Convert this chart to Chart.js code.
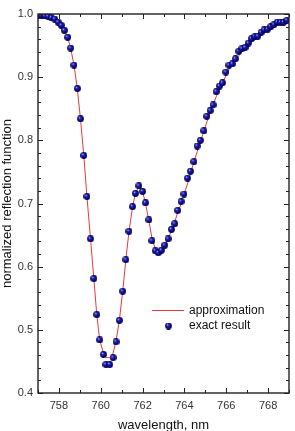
<!DOCTYPE html>
<html>
<head>
<meta charset="utf-8">
<script src="https://cdn.jsdelivr.net/npm/chart.js@4.4.1/dist/chart.umd.min.js"></script>
<style>
  html, body { margin: 0; padding: 0; background: #fff; }
  #wrap { width: 295px; height: 431px; }
</style>
</head>
<body>
<div id="wrap"><canvas id="chart"></canvas></div>
<script>
// wavelengths, nm
const wavelength = [
  757.00, 757.16, 757.32, 757.48, 757.64, 757.80, 757.96, 758.11, 758.26, 758.42,
  758.56, 758.72, 758.88, 759.03, 759.19, 759.34, 759.51, 759.67, 759.81, 759.95,
  760.13, 760.25, 760.43, 760.59, 760.73, 760.89, 761.05, 761.20, 761.35, 761.52,
  761.66, 761.82, 762.00, 762.14, 762.30, 762.45, 762.61, 762.75, 762.90, 763.06,
  763.22, 763.38, 763.54, 763.68, 763.84, 763.98, 764.15, 764.29, 764.45, 764.61,
  764.76, 764.93, 765.07, 765.23, 765.37, 765.52, 765.68, 765.82, 765.98, 766.13,
  766.29, 766.44, 766.60, 766.75, 766.90, 767.06, 767.21, 767.37, 767.51, 767.67,
  767.81, 767.98, 768.13, 768.28, 768.44, 768.60, 768.74, 768.90
];

// exact result (spheres)
const exactResult = [
  0.998, 0.998, 0.997, 0.996, 0.994, 0.992, 0.987, 0.982, 0.974, 0.963,
  0.946, 0.919, 0.882, 0.834, 0.776, 0.711, 0.644, 0.581, 0.524, 0.484,
  0.461, 0.445, 0.445, 0.456, 0.481, 0.515, 0.561, 0.611, 0.656, 0.695,
  0.716, 0.728, 0.719, 0.701, 0.674, 0.641, 0.625, 0.622, 0.626, 0.634,
  0.644, 0.659, 0.668, 0.689, 0.703, 0.715, 0.740, 0.751, 0.766, 0.791,
  0.800, 0.815, 0.838, 0.847, 0.856, 0.877, 0.886, 0.891, 0.908, 0.919,
  0.921, 0.929, 0.941, 0.945, 0.947, 0.954, 0.961, 0.964, 0.965, 0.971,
  0.975, 0.976, 0.980, 0.983, 0.987, 0.987, 0.987, 0.990
];

// approximation (red line)
const approximation = [
  0.998, 0.998, 0.997, 0.996, 0.994, 0.992, 0.987, 0.982, 0.974, 0.963,
  0.946, 0.919, 0.882, 0.834, 0.776, 0.711, 0.644, 0.581, 0.524, 0.484,
  0.463, 0.456, 0.456, 0.463, 0.482, 0.515, 0.561, 0.611, 0.656, 0.694,
  0.717, 0.726, 0.719, 0.700, 0.673, 0.645, 0.628, 0.623, 0.625, 0.633,
  0.644, 0.657, 0.671, 0.686, 0.699, 0.715, 0.731, 0.748, 0.765, 0.782,
  0.798, 0.814, 0.829, 0.843, 0.856, 0.869, 0.881, 0.891, 0.902, 0.912,
  0.919, 0.926, 0.934, 0.940, 0.945, 0.950, 0.956, 0.959, 0.963, 0.966,
  0.970, 0.973, 0.976, 0.979, 0.982, 0.984, 0.985, 0.987
];

// axis ticks
const xTicks = [758, 760, 762, 764, 766, 768];
const xMinorTicks = [757, 759, 761, 763, 765, 767, 769];
const yTicks = [0.4, 0.5, 0.6, 0.7, 0.8, 0.9, 1.0];
const yMinorTicks = [];
for (let k = 0; k <= 30; k++) yMinorTicks.push(+(0.4 + k * 0.02).toFixed(2));

const FONT = "'Liberation Sans', Arial, sans-serif";

// shaded navy sphere used as point marker
function makeBall(d) {
  const c = document.createElement("canvas");
  c.width = c.height = d;
  const g = c.getContext("2d");
  const r = d / 2;
  const grad = g.createRadialGradient(r * 0.65, r * 0.6, 0.2, r, r, r);
  grad.addColorStop(0, "#c8c8ff");
  grad.addColorStop(0.28, "#2828b8");
  grad.addColorStop(0.7, "#08087f");
  grad.addColorStop(1, "#00004a");
  g.fillStyle = grad;
  g.beginPath();
  g.arc(r, r, r - 0.1, 0, Math.PI * 2);
  g.fill();
  return c;
}
const ball = makeBall(7);

// frame, inward ticks and in-plot legend
const frameAndLegend = {
  id: "frameAndLegend",
  afterDraw(chart) {
    const { ctx, chartArea: a, scales: { x, y } } = chart;
    ctx.save();
    ctx.strokeStyle = "#222";
    ctx.lineWidth = 1;
    const seg = (x1, y1, x2, y2) => {
      ctx.beginPath();
      ctx.moveTo(x1, y1);
      ctx.lineTo(x2, y2);
      ctx.stroke();
    };
    const xt = (v, len) => {
      const p = Math.round(x.getPixelForValue(v)) + 0.5;
      seg(p, a.bottom, p, a.bottom - len);
      seg(p, a.top, p, a.top + len);
    };
    const yt = (v, len) => {
      const p = Math.round(y.getPixelForValue(v)) + 0.5;
      seg(a.left, p, a.left + len, p);
      seg(a.right, p, a.right - len, p);
    };
    xMinorTicks.forEach((v) => xt(v, 3));
    xTicks.forEach((v) => xt(v, 5));
    yMinorTicks.forEach((v) => yt(v, 3));
    yTicks.forEach((v) => yt(v, 5));
    ctx.lineWidth = 1.4;
    ctx.strokeRect(a.left, a.top, a.right - a.left, a.bottom - a.top);

    // legend
    ctx.font = "12px " + FONT;
    ctx.fillStyle = "#111";
    ctx.textBaseline = "middle";
    ctx.strokeStyle = "#e8393a";
    ctx.lineWidth = 1;
    seg(152, 310.5, 184, 310.5);
    ctx.fillText("approximation", 189, 310.5);
    ctx.drawImage(ball, 165, 322.5, 7, 7);
    ctx.fillText("exact result", 189, 326);
    ctx.restore();
  },
};

new Chart(document.getElementById("chart"), {
  type: "scatter",
  data: {
    datasets: [
      {
        label: "approximation",
        data: wavelength.map((w, i) => ({ x: w, y: approximation[i] })),
        showLine: true,
        borderColor: "#e8393a",
        borderWidth: 1,
        pointRadius: 0,
        order: 2,
      },
      {
        label: "exact result",
        data: wavelength.map((w, i) => ({ x: w, y: exactResult[i] })),
        pointStyle: ball,
        pointRadius: 3.5,
        order: 1,
      },
    ],
  },
  options: {
    responsive: true,
    maintainAspectRatio: false,
    animation: false,
    layout: { padding: { top: 14, right: 6, left: 0, bottom: 0 } },
    plugins: { legend: { display: false }, tooltip: { enabled: false } },
    scales: {
      x: {
        type: "linear",
        min: 757,
        max: 769,
        grid: { display: false, drawTicks: false },
        border: { display: false },
        afterFit: (s) => { s.height = 38; },
        afterBuildTicks: (s) => { s.ticks = xTicks.map((v) => ({ value: v })); },
        ticks: {
          padding: 6,
          color: "#333",
          font: { family: FONT, size: 11 },
        },
        title: {
          display: true,
          text: "wavelength, nm",
          color: "#111",
          padding: { top: 0, bottom: -2 },
          font: { family: FONT, size: 13 },
        },
      },
      y: {
        type: "linear",
        min: 0.4,
        max: 1.0,
        grid: { display: false, drawTicks: false },
        border: { display: false },
        afterFit: (s) => { s.width = 38; },
        afterBuildTicks: (s) => { s.ticks = yTicks.map((v) => ({ value: v })); },
        ticks: {
          padding: 5,
          color: "#333",
          font: { family: FONT, size: 11 },
          callback: (v) => v.toFixed(1),
        },
        title: {
          display: true,
          text: "normalized reflection function",
          color: "#111",
          padding: { top: 0, bottom: 0 },
          font: { family: FONT, size: 13 },
        },
      },
    },
  },
  plugins: [frameAndLegend],
});
</script>
</body>
</html>
